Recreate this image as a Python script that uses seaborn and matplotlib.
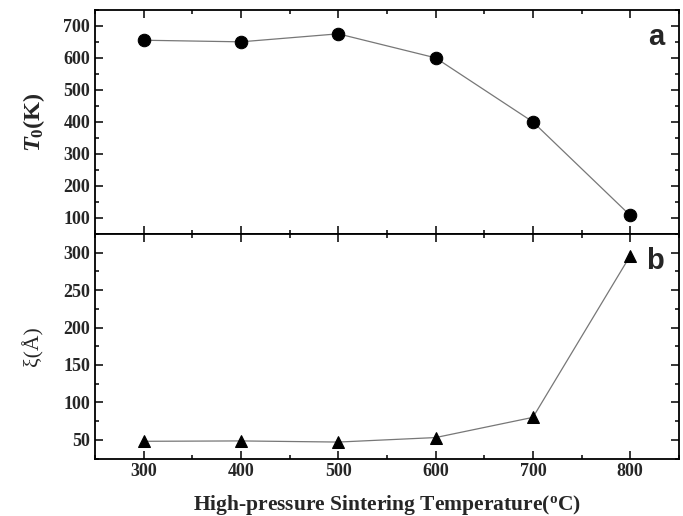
import numpy as np
import pandas as pd
import matplotlib
matplotlib.use("Agg")
import matplotlib.pyplot as plt
import seaborn as sns
from matplotlib.ticker import MultipleLocator

# ---- data ----
temps = [300, 400, 500, 600, 700, 800]
t0_vals = [655, 650, 675, 600, 400, 108]
xi_vals = [48, 48.5, 47, 53, 80, 296]

df = pd.DataFrame({'temp': temps, 'T0': t0_vals, 'xi': xi_vals})

sns.set_theme(style='ticks')
plt.rcParams['font.family'] = ['Liberation Serif', 'DejaVu Serif']
plt.rcParams['mathtext.fontset'] = 'custom'
plt.rcParams['mathtext.rm'] = 'Liberation Serif:bold'
plt.rcParams['mathtext.it'] = 'Liberation Serif:bold:italic'
plt.rcParams['mathtext.bf'] = 'Liberation Serif:bold'

fig = plt.figure(figsize=(6.83, 5.16), dpi=100)
ax1 = fig.add_axes([0.139, 0.5465, 0.855, 0.4345])
ax2 = fig.add_axes([0.139, 0.1114, 0.855, 0.4351], sharex=ax1)

sns.lineplot(data=df, x='temp', y='T0', ax=ax1, color='#777777', lw=0.9,
             marker='o', markersize=9, markerfacecolor='black',
             markeredgecolor='black')
sns.lineplot(data=df, x='temp', y='xi', ax=ax2, color='#777777', lw=0.9,
             marker='^', markersize=8, markerfacecolor='black',
             markeredgecolor='black')

ax1.set_xlim(250, 850)
ax1.set_ylim(50, 750)
ax2.set_ylim(25, 325)

ax1.yaxis.set_minor_locator(MultipleLocator(50))
ax2.yaxis.set_minor_locator(MultipleLocator(25))
ax1.xaxis.set_major_locator(MultipleLocator(100))
ax1.xaxis.set_minor_locator(MultipleLocator(50))
ax1.set_yticks([100, 200, 300, 400, 500, 600, 700])
ax2.set_yticks([50, 100, 150, 200, 250, 300])

for ax in (ax1, ax2):
    for s in ax.spines.values():
        s.set_linewidth(1.3)
        s.set_color('black')
    ax.tick_params(which='both', direction='in', top=True, right=True,
                   width=1.1, color='black')
    ax.tick_params(which='major', length=6)
    ax.tick_params(which='minor', length=3)
    for lab in ax.get_yticklabels() + ax.get_xticklabels():
        lab.set_fontweight('bold')
        lab.set_fontsize(13)

ax1.tick_params(labelbottom=False)
ax1.set_xlabel('')
ax1.set_ylabel(r'$T_{\mathrm{0}}$(K)', fontsize=17.5, fontweight='bold', labelpad=12)
ax2.set_ylabel('ξ(Å)', fontsize=15.5, labelpad=14)
ax2.set_xlabel(r'High-pressure Sintering Temperature($^{\mathrm{o}}$C)',
               fontsize=15.5, fontweight='bold', labelpad=9)

ax1.text(0.975, 0.88, 'a', transform=ax1.transAxes, ha='right', va='center',
         fontsize=21, fontweight='bold', family='Liberation Sans')
ax2.text(0.975, 0.88, 'b', transform=ax2.transAxes, ha='right', va='center',
         fontsize=21, fontweight='bold', family='Liberation Sans')

fig.savefig('out.png', dpi=100)
